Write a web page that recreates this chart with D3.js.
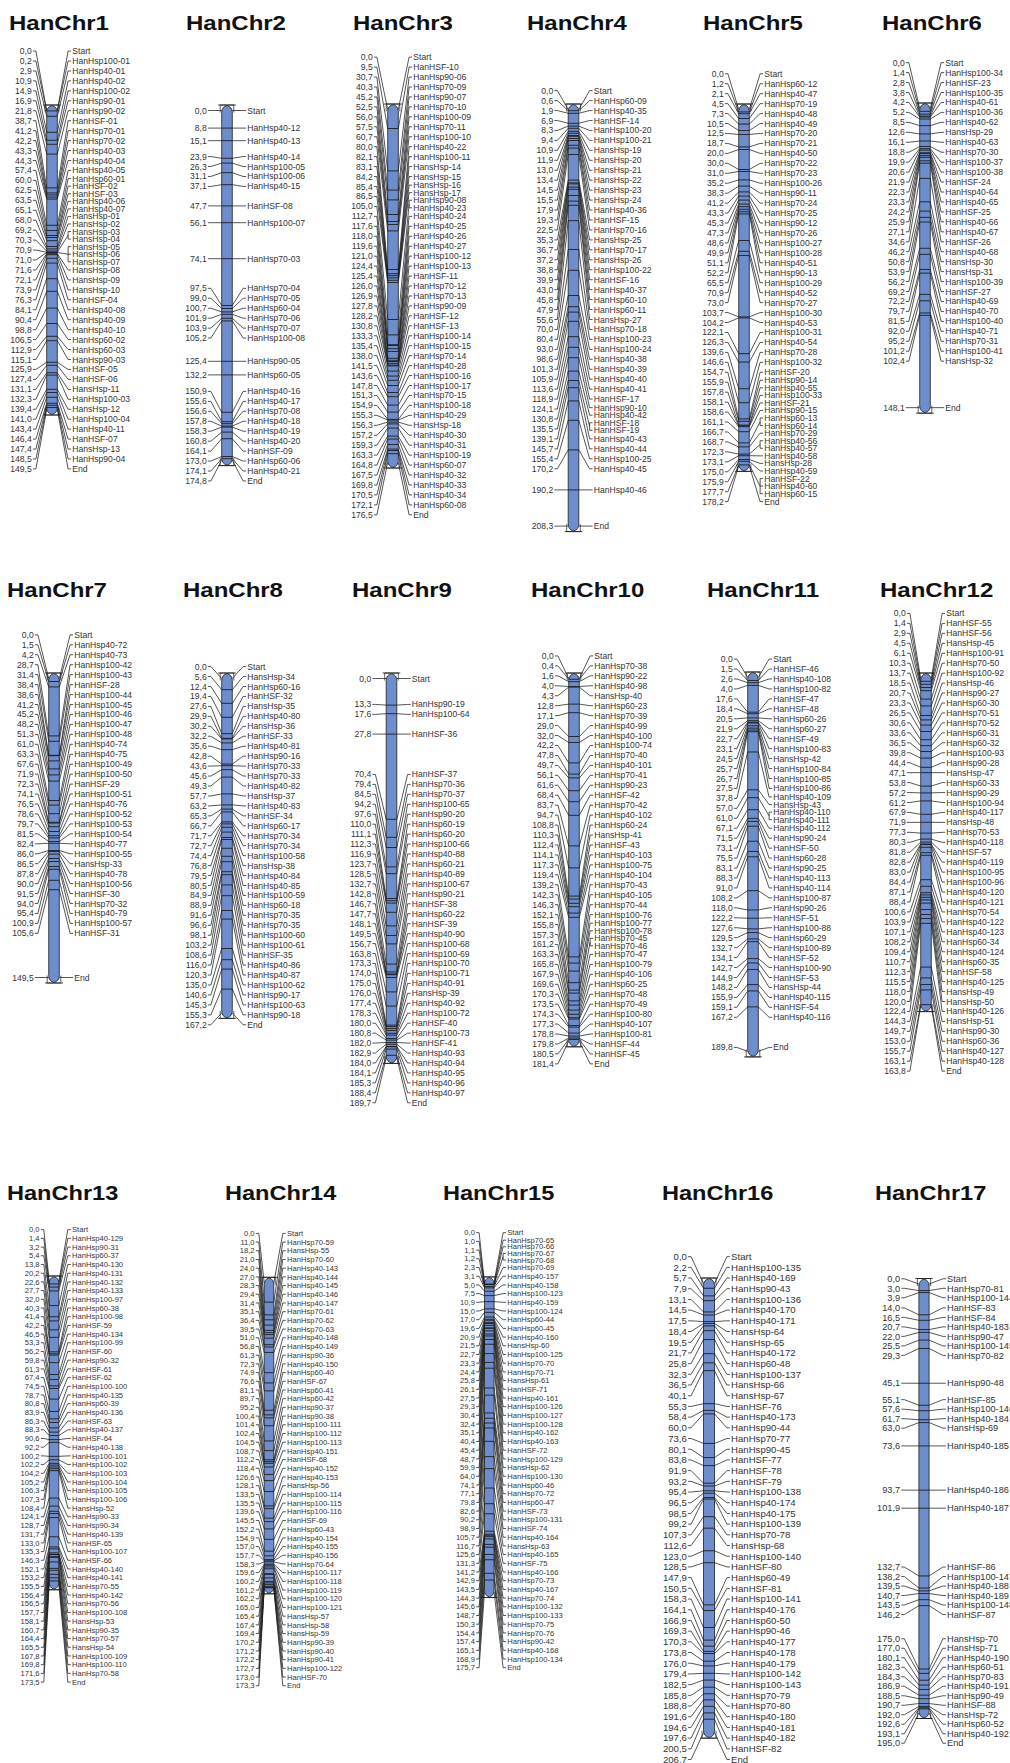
<!DOCTYPE html>
<html>
<head>
<meta charset="utf-8">
<script src="https://cdn.jsdelivr.net/npm/d3@7"></script>
<style>
  html, body { margin: 0; padding: 0; background: #fff; }
  svg { display: block; }
</style>
</head>
<body>
<svg id="chart" width="1010" height="1763"></svg>
<script>
// Linkage-map positions (cM) and marker names for each sunflower chromosome.
// Markers sharing one position are listed next to each other.
const chr1Pos = [0.0, 0.2, 2.9, 10.9, 14.9, 16.9, 21.8, 38.7, 41.2, 42.2, 43.3, 44.3, 57.4, 60.0, 62.5, 63.5, 65.1, 68.0, 69.2, 70.3, 70.9, 70.9, 71.0, 71.0, 71.0, 71.6, 72.1, 73.9, 76.3, 84.1, 90.4, 98.8, 106.5, 112.9, 115.1, 125.9, 127.4, 131.1, 132.3, 139.4, 141.0, 143.4, 146.4, 147.4, 148.5, 149.5];
const chr1Names = ["Start", "HanHsp100-01", "HanHsp40-01", "HanHsp40-02", "HanHsp100-02", "HanHsp90-01", "HanHsp90-02", "HanHSF-01", "HanHsp70-01", "HanHsp70-02", "HanHsp40-03", "HanHsp40-04", "HanHsp40-05", "HanHsp60-01", "HanHSF-02", "HanHSF-03", "HanHsp40-06", "HanHsp40-07", "HansHsp-01", "HansHsp-02", "HansHsp-03", "HansHsp-04", "HansHsp-05", "HansHsp-06", "HansHsp-07", "HansHsp-08", "HansHsp-09", "HansHsp-10", "HanHSF-04", "HanHsp40-08", "HanHsp40-09", "HanHsp40-10", "HanHsp60-02", "HanHsp60-03", "HanHsp90-03", "HanHSF-05", "HanHSF-06", "HansHsp-11", "HanHsp100-03", "HansHsp-12", "HanHsp100-04", "HanHsp40-11", "HanHSF-07", "HansHsp-13", "HanHsp90-04", "End"];

const chr2Pos = [0.0, 8.8, 15.1, 23.9, 26.3, 31.1, 37.1, 47.7, 56.1, 74.1, 97.5, 99.0, 100.7, 101.9, 103.9, 105.2, 125.4, 132.2, 150.9, 155.6, 156.6, 157.8, 158.3, 160.8, 164.1, 173.0, 174.1, 174.8];
const chr2Names = ["Start", "HanHsp40-12", "HanHsp40-13", "HanHsp40-14", "HanHsp100-05", "HanHsp100-06", "HanHsp40-15", "HanHSF-08", "HanHsp100-07", "HanHsp70-03", "HanHsp70-04", "HanHsp70-05", "HanHsp60-04", "HanHsp70-06", "HanHsp70-07", "HanHsp100-08", "HanHsp90-05", "HanHsp60-05", "HanHsp40-16", "HanHsp40-17", "HanHsp70-08", "HanHsp40-18", "HanHsp40-19", "HanHsp40-20", "HanHSF-09", "HanHsp60-06", "HanHsp40-21", "End"];

const chr3Pos = [0.0, 9.5, 30.7, 40.3, 45.2, 52.5, 56.0, 57.5, 60.7, 80.0, 82.1, 83.1, 84.2, 85.4, 86.5, 105.0, 105.0, 112.7, 117.6, 118.0, 119.6, 121.0, 124.4, 125.4, 126.0, 126.9, 127.8, 128.2, 130.8, 133.3, 135.4, 138.0, 141.5, 143.6, 147.8, 151.3, 154.9, 155.3, 156.3, 157.2, 159.3, 163.3, 164.8, 167.5, 169.8, 170.5, 172.1, 176.5];
const chr3Names = ["Start", "HanHSF-10", "HanHsp90-06", "HanHsp70-09", "HanHsp90-07", "HanHsp70-10", "HanHsp100-09", "HanHsp70-11", "HanHsp100-10", "HanHsp40-22", "HanHsp100-11", "HansHsp-14", "HansHsp-15", "HansHsp-16", "HansHsp-17", "HanHsp90-08", "HanHsp40-23", "HanHsp40-24", "HanHsp40-25", "HanHsp40-26", "HanHsp40-27", "HanHsp100-12", "HanHsp100-13", "HanHSF-11", "HanHsp70-12", "HanHsp70-13", "HanHsp90-09", "HanHSF-12", "HanHSF-13", "HanHsp100-14", "HanHsp100-15", "HanHsp70-14", "HanHsp40-28", "HanHsp100-16", "HanHsp100-17", "HanHsp70-15", "HanHsp100-18", "HanHsp40-29", "HansHsp-18", "HanHsp40-30", "HanHsp40-31", "HanHsp100-19", "HanHsp60-07", "HanHsp40-32", "HanHsp40-33", "HanHsp40-34", "HanHsp60-08", "End"];

const chr4Pos = [0.0, 0.6, 1.9, 6.9, 8.3, 9.4, 10.9, 11.9, 13.0, 13.4, 14.5, 15.5, 17.9, 19.3, 22.5, 35.3, 36.7, 37.2, 38.8, 39.9, 43.0, 45.8, 47.9, 55.6, 70.0, 80.4, 93.0, 98.6, 101.3, 105.9, 113.6, 118.9, 124.1, 130.8, 135.5, 135.5, 139.1, 145.7, 155.4, 170.2, 190.2, 208.3];
const chr4Names = ["Start", "HanHsp60-09", "HanHsp40-35", "HanHSF-14", "HanHsp100-20", "HanHsp100-21", "HansHsp-19", "HansHsp-20", "HansHsp-21", "HansHsp-22", "HansHsp-23", "HansHsp-24", "HanHsp40-36", "HanHSF-15", "HanHsp70-16", "HansHsp-25", "HanHsp70-17", "HansHsp-26", "HanHsp100-22", "HanHSF-16", "HanHsp40-37", "HanHsp60-10", "HanHsp60-11", "HansHsp-27", "HanHsp70-18", "HanHsp100-23", "HanHsp100-24", "HanHsp40-38", "HanHsp40-39", "HanHsp40-40", "HanHsp40-41", "HanHSF-17", "HanHsp90-10", "HanHsp40-42", "HanHSF-18", "HanHSF-19", "HanHsp40-43", "HanHsp40-44", "HanHsp100-25", "HanHsp40-45", "HanHsp40-46", "End"];

const chr5Pos = [0.0, 1.2, 2.1, 4.5, 7.3, 10.5, 12.5, 18.7, 20.0, 30.0, 31.0, 35.2, 38.3, 41.2, 43.3, 45.3, 47.3, 48.6, 49.9, 51.1, 52.2, 65.5, 70.9, 73.0, 103.7, 104.2, 122.1, 126.3, 139.6, 146.6, 154.7, 155.9, 157.8, 158.1, 158.6, 161.1, 166.7, 166.7, 168.7, 172.3, 172.3, 173.1, 175.0, 175.9, 177.7, 177.7, 177.7, 178.2];
const chr5Names = ["Start", "HanHsp60-12", "HanHsp40-47", "HanHsp70-19", "HanHsp40-48", "HanHsp40-49", "HanHsp70-20", "HanHsp70-21", "HanHsp40-50", "HanHsp70-22", "HanHsp70-23", "HanHsp100-26", "HanHsp90-11", "HanHsp70-24", "HanHsp70-25", "HanHsp90-12", "HanHsp70-26", "HanHsp100-27", "HanHsp100-28", "HanHsp40-51", "HanHsp90-13", "HanHsp100-29", "HanHsp40-52", "HanHsp70-27", "HanHsp100-30", "HanHsp40-53", "HanHsp100-31", "HanHsp40-54", "HanHsp70-28", "HanHsp100-32", "HanHSF-20", "HanHsp90-14", "HanHsp40-55", "HanHsp100-33", "HanHSF-21", "HanHsp90-15", "HanHsp60-13", "HanHsp60-14", "HanHsp70-29", "HanHsp40-56", "HanHsp40-57", "HanHsp40-58", "HansHsp-28", "HanHsp40-59", "HanHSF-22", "HanHsp40-60", "HanHsp60-15", "End"];

const chr6Pos = [0.0, 1.4, 2.8, 3.8, 4.2, 5.2, 8.5, 12.6, 16.1, 18.8, 19.9, 20.6, 21.9, 22.3, 23.3, 24.2, 25.9, 27.1, 34.6, 46.2, 50.8, 53.9, 56.2, 69.2, 72.2, 79.7, 81.5, 92.0, 95.2, 101.2, 102.4, 148.1];
const chr6Names = ["Start", "HanHsp100-34", "HanHSF-23", "HanHsp100-35", "HanHsp40-61", "HanHsp100-36", "HanHsp40-62", "HansHsp-29", "HanHsp40-63", "HanHsp70-30", "HanHsp100-37", "HanHsp100-38", "HanHSF-24", "HanHsp40-64", "HanHsp40-65", "HanHSF-25", "HanHsp40-66", "HanHsp40-67", "HanHSF-26", "HanHsp40-68", "HansHsp-30", "HansHsp-31", "HanHsp100-39", "HanHSF-27", "HanHsp40-69", "HanHsp40-70", "HanHsp100-40", "HanHsp40-71", "HanHsp70-31", "HanHsp100-41", "HansHsp-32", "End"];

const chr7Pos = [0.0, 1.5, 4.2, 28.7, 31.4, 38.4, 38.6, 41.2, 45.2, 48.2, 51.3, 61.0, 63.3, 67.6, 71.9, 72.3, 74.1, 76.5, 78.6, 79.7, 81.5, 82.4, 86.0, 86.5, 87.8, 90.0, 91.5, 94.0, 95.4, 100.9, 105.6, 149.5];
const chr7Names = ["Start", "HanHsp40-72", "HanHsp40-73", "HanHsp100-42", "HanHsp100-43", "HanHSF-28", "HanHsp100-44", "HanHsp100-45", "HanHsp100-46", "HanHsp100-47", "HanHsp100-48", "HanHsp40-74", "HanHsp40-75", "HanHsp100-49", "HanHsp100-50", "HanHSF-29", "HanHsp100-51", "HanHsp40-76", "HanHsp100-52", "HanHsp100-53", "HanHsp100-54", "HanHsp40-77", "HanHsp100-55", "HansHsp-33", "HanHsp40-78", "HanHsp100-56", "HanHSF-30", "HanHsp70-32", "HanHsp40-79", "HanHsp100-57", "HanHSF-31", "End"];

const chr8Pos = [0.0, 5.6, 12.4, 19.4, 27.6, 29.9, 30.2, 32.2, 35.6, 42.8, 43.6, 45.6, 49.3, 57.7, 63.2, 65.3, 66.7, 71.7, 72.7, 74.4, 76.8, 79.5, 80.5, 84.9, 88.9, 91.6, 96.6, 98.1, 103.2, 108.6, 116.0, 120.3, 135.0, 140.6, 145.3, 155.3, 167.2];
const chr8Names = ["Start", "HansHsp-34", "HanHsp60-16", "HanHSF-32", "HansHsp-35", "HanHsp40-80", "HansHsp-36", "HanHSF-33", "HanHsp40-81", "HanHsp90-16", "HanHsp70-33", "HanHsp70-33", "HanHsp40-82", "HansHsp-37", "HanHsp40-83", "HanHSF-34", "HanHsp60-17", "HanHsp70-34", "HanHsp70-34", "HanHsp100-58", "HansHsp-38", "HanHsp40-84", "HanHsp40-85", "HanHsp100-59", "HanHsp60-18", "HanHsp70-35", "HanHsp70-35", "HanHsp100-60", "HanHsp100-61", "HanHSF-35", "HanHsp40-86", "HanHsp40-87", "HanHsp100-62", "HanHsp90-17", "HanHsp100-63", "HanHsp90-18", "End"];

const chr9Pos = [0.0, 13.3, 17.6, 27.8, 70.4, 79.4, 84.5, 94.2, 97.6, 110.0, 111.1, 112.3, 116.9, 123.7, 128.5, 132.7, 142.8, 146.7, 147.7, 148.1, 149.5, 156.7, 163.8, 173.3, 174.0, 175.0, 176.0, 177.4, 178.3, 180.0, 180.8, 182.0, 182.9, 184.0, 184.1, 185.3, 188.4, 189.7];
const chr9Names = ["Start", "HanHsp90-19", "HanHsp100-64", "HanHSF-36", "HanHSF-37", "HanHsp70-36", "HanHsp70-37", "HanHsp100-65", "HanHsp90-20", "HanHsp60-19", "HanHsp60-20", "HanHsp100-66", "HanHsp40-88", "HanHsp60-21", "HanHsp40-89", "HanHsp100-67", "HanHsp90-21", "HanHSF-38", "HanHsp60-22", "HanHSF-39", "HanHsp40-90", "HanHsp100-68", "HanHsp100-69", "HanHsp100-70", "HanHsp100-71", "HanHsp40-91", "HansHsp-39", "HanHsp40-92", "HanHsp100-72", "HanHSF-40", "HanHsp100-73", "HanHSF-41", "HanHsp40-93", "HanHsp40-94", "HanHsp40-95", "HanHsp40-96", "HanHsp40-97", "End"];

const chr10Pos = [0.0, 0.4, 1.6, 4.0, 4.3, 12.8, 17.1, 29.0, 32.0, 42.2, 47.8, 49.7, 56.1, 61.6, 68.4, 83.7, 94.7, 108.8, 110.3, 112.4, 114.1, 117.3, 119.4, 139.2, 142.3, 146.3, 152.1, 155.8, 157.3, 161.2, 161.2, 163.3, 165.8, 167.9, 169.6, 170.3, 173.5, 174.3, 177.3, 178.8, 179.8, 180.5, 181.4];
const chr10Names = ["Start", "HanHsp70-38", "HanHsp90-22", "HanHsp40-98", "HansHsp-40", "HanHsp60-23", "HanHsp70-39", "HanHsp40-99", "HanHsp40-100", "HanHsp100-74", "HanHsp70-40", "HanHsp40-101", "HanHsp70-41", "HanHsp90-23", "HanHSF-42", "HanHsp70-42", "HanHsp40-102", "HanHsp60-24", "HansHsp-41", "HanHSF-43", "HanHsp40-103", "HanHsp100-75", "HanHsp40-104", "HanHsp70-43", "HanHsp40-105", "HanHsp70-44", "HanHsp100-76", "HanHsp100-77", "HanHsp100-78", "HanHsp70-45", "HanHsp70-46", "HanHsp70-47", "HanHsp100-79", "HanHsp40-106", "HanHsp60-25", "HanHsp70-48", "HanHsp70-49", "HanHsp100-80", "HanHsp40-107", "HanHsp100-81", "HanHSF-44", "HanHSF-45", "End"];

const chr11Pos = [0.0, 1.5, 2.6, 4.0, 17.6, 18.4, 20.5, 21.9, 22.7, 23.1, 24.5, 25.7, 26.7, 27.5, 37.8, 57.0, 61.0, 61.0, 67.1, 71.5, 73.1, 75.5, 83.1, 88.3, 91.0, 108.2, 118.0, 122.2, 127.6, 129.5, 132.7, 134.1, 142.7, 144.9, 148.2, 155.9, 159.1, 167.2, 189.8];
const chr11Names = ["Start", "HanHSF-46", "HanHsp40-108", "HanHsp100-82", "HanHSF-47", "HanHSF-48", "HanHsp60-26", "HanHsp60-27", "HanHSF-49", "HanHsp100-83", "HansHsp-42", "HanHsp100-84", "HanHsp100-85", "HanHsp100-86", "HanHsp40-109", "HansHsp-43", "HanHsp40-110", "HanHsp40-111", "HanHsp40-112", "HanHsp90-24", "HanHSF-50", "HanHsp60-28", "HanHsp90-25", "HanHsp40-113", "HanHsp40-114", "HanHsp100-87", "HanHsp90-26", "HanHSF-51", "HanHsp100-88", "HanHsp60-29", "HanHsp100-89", "HanHSF-52", "HanHsp100-90", "HanHSF-53", "HansHsp-44", "HanHsp40-115", "HanHSF-54", "HanHsp40-116", "End"];

const chr12Pos = [0.0, 1.4, 2.9, 4.5, 6.1, 10.3, 13.7, 18.5, 20.7, 23.3, 26.5, 30.6, 33.6, 36.5, 39.8, 44.4, 47.1, 53.8, 57.2, 61.2, 67.9, 71.9, 77.3, 80.3, 81.8, 82.8, 83.0, 84.4, 87.1, 88.4, 100.6, 103.9, 107.1, 108.2, 109.4, 110.7, 112.3, 115.5, 118.0, 120.0, 122.4, 144.3, 149.7, 153.0, 155.7, 163.1, 163.8];
const chr12Names = ["Start", "HanHSF-55", "HanHSF-56", "HansHsp-45", "HanHsp100-91", "HanHsp70-50", "HanHsp100-92", "HansHsp-46", "HanHsp90-27", "HanHsp60-30", "HanHsp70-51", "HanHsp70-52", "HanHsp60-31", "HanHsp60-32", "HanHsp100-93", "HanHsp90-28", "HansHsp-47", "HanHsp60-33", "HanHsp90-29", "HanHsp100-94", "HanHsp40-117", "HansHsp-48", "HanHsp70-53", "HanHsp40-118", "HanHSF-57", "HanHsp40-119", "HanHsp100-95", "HanHsp100-96", "HanHsp40-120", "HanHsp40-121", "HanHsp70-54", "HanHsp40-122", "HanHsp40-123", "HanHsp60-34", "HanHsp40-124", "HanHsp60-35", "HanHSF-58", "HanHsp40-125", "HansHsp-49", "HansHsp-50", "HanHsp40-126", "HansHsp-51", "HanHsp90-30", "HanHsp60-36", "HanHsp40-127", "HanHsp40-128", "End"];

const chr13Pos = [0.0, 1.4, 3.2, 5.4, 13.8, 20.2, 22.6, 27.7, 32.0, 40.3, 41.4, 42.2, 46.5, 53.3, 56.2, 59.8, 61.3, 67.4, 74.5, 78.7, 80.8, 83.9, 86.3, 88.3, 90.6, 92.2, 100.2, 102.2, 104.2, 105.2, 106.3, 107.3, 108.4, 124.1, 128.7, 131.7, 133.0, 135.3, 146.3, 152.1, 153.2, 155.5, 156.4, 156.5, 157.7, 158.1, 160.7, 164.4, 165.5, 167.8, 169.8, 171.6, 173.5];
const chr13Names = ["Start", "HanHsp40-129", "HanHsp90-31", "HanHsp60-37", "HanHsp40-130", "HanHsp40-131", "HanHsp40-132", "HanHsp40-133", "HanHsp100-97", "HanHsp60-38", "HanHsp100-98", "HanHSF-59", "HanHsp40-134", "HanHsp100-99", "HanHSF-60", "HanHsp90-32", "HanHSF-61", "HanHSF-62", "HanHsp100-100", "HanHsp40-135", "HanHsp60-39", "HanHsp40-136", "HanHSF-63", "HanHsp40-137", "HanHSF-64", "HanHsp40-138", "HanHsp100-101", "HanHsp100-102", "HanHsp100-103", "HanHsp100-104", "HanHsp100-105", "HanHsp100-106", "HansHsp-52", "HanHsp90-33", "HanHsp90-34", "HanHsp40-139", "HanHSF-65", "HanHsp100-107", "HanHSF-66", "HanHsp40-140", "HanHsp40-141", "HanHsp70-55", "HanHsp40-142", "HanHsp70-56", "HanHsp100-108", "HansHsp-53", "HanHsp90-35", "HanHsp70-57", "HansHsp-54", "HanHsp100-109", "HanHsp100-110", "HanHsp70-58", "End"];

const chr14Pos = [0.0, 11.0, 18.2, 21.0, 24.0, 27.0, 28.3, 29.4, 31.4, 35.1, 36.4, 39.5, 51.0, 56.8, 61.3, 72.3, 74.9, 76.6, 81.1, 89.7, 95.2, 100.4, 101.4, 102.4, 104.5, 108.7, 112.2, 118.4, 126.6, 128.1, 133.5, 135.5, 139.6, 145.5, 152.2, 154.9, 157.0, 157.7, 158.3, 159.6, 160.2, 161.2, 162.2, 165.0, 165.4, 167.4, 169.4, 170.2, 171.2, 172.2, 172.7, 173.0, 173.3];
const chr14Names = ["Start", "HanHsp70-59", "HansHsp-55", "HanHsp70-60", "HanHsp40-143", "HanHsp40-144", "HanHsp40-145", "HanHsp40-146", "HanHsp40-147", "HanHsp70-61", "HanHsp70-62", "HanHsp70-63", "HanHsp40-148", "HanHsp40-149", "HanHsp90-36", "HanHsp40-150", "HanHsp60-40", "HanHSF-67", "HanHsp60-41", "HanHsp60-42", "HanHsp90-37", "HanHsp90-38", "HanHsp100-111", "HanHsp100-112", "HanHsp100-113", "HanHsp40-151", "HanHSF-68", "HanHsp40-152", "HanHsp40-153", "HansHsp-56", "HanHsp100-114", "HanHsp100-115", "HanHsp100-116", "HanHSF-69", "HanHsp60-43", "HanHsp40-154", "HanHsp40-155", "HanHsp40-156", "HanHsp70-64", "HanHsp100-117", "HanHsp100-118", "HanHsp100-119", "HanHsp100-120", "HanHsp100-121", "HansHsp-57", "HansHsp-58", "HansHsp-59", "HanHsp90-39", "HanHsp90-40", "HanHsp90-41", "HanHsp100-122", "HanHSF-70", "End"];

const chr15Pos = [0.0, 1.0, 1.1, 1.2, 1.2, 2.3, 3.1, 5.0, 7.5, 10.9, 15.0, 17.0, 19.6, 20.9, 21.5, 22.7, 23.3, 24.4, 25.8, 26.1, 27.5, 29.3, 30.4, 32.4, 35.1, 40.4, 45.4, 48.7, 59.9, 64.0, 74.1, 77.1, 79.8, 82.6, 90.2, 98.9, 105.7, 116.7, 125.6, 131.3, 141.2, 142.9, 143.5, 144.3, 145.6, 148.7, 150.3, 154.4, 157.4, 165.1, 168.9, 175.7];
const chr15Names = ["Start", "HanHsp70-65", "HanHsp70-66", "HanHsp70-67", "HanHsp70-68", "HanHsp70-69", "HanHsp40-157", "HanHsp40-158", "HanHsp100-123", "HanHsp40-159", "HanHsp100-124", "HanHsp60-44", "HanHsp60-45", "HanHsp40-160", "HansHsp-60", "HanHsp100-125", "HanHsp70-70", "HanHsp70-71", "HansHsp-61", "HanHSF-71", "HanHsp40-161", "HanHsp100-126", "HanHsp100-127", "HanHsp100-128", "HanHsp40-162", "HanHsp40-163", "HanHSF-72", "HanHsp100-129", "HansHsp-62", "HanHsp100-130", "HanHsp60-46", "HanHsp70-72", "HanHsp60-47", "HanHSF-73", "HanHsp100-131", "HanHSF-74", "HanHsp40-164", "HansHsp-63", "HanHsp40-165", "HanHSF-75", "HanHsp40-166", "HanHsp70-73", "HanHsp40-167", "HanHsp70-74", "HanHsp100-132", "HanHsp100-133", "HanHsp70-75", "HanHsp70-76", "HanHsp90-42", "HanHsp40-168", "HanHsp100-134", "End"];

const chr16Pos = [0.0, 2.2, 5.7, 7.9, 13.1, 14.5, 17.5, 18.4, 19.5, 21.7, 25.8, 32.3, 36.5, 40.1, 55.3, 58.4, 60.0, 73.6, 80.1, 83.8, 91.9, 93.2, 95.4, 96.5, 98.5, 99.2, 107.3, 112.6, 123.0, 128.5, 147.9, 150.5, 158.3, 164.1, 166.9, 169.3, 170.3, 173.8, 176.0, 179.4, 182.5, 185.8, 188.8, 191.6, 194.6, 197.6, 200.5, 206.7];
const chr16Names = ["Start", "HanHsp100-135", "HanHsp40-169", "HanHsp90-43", "HanHsp100-136", "HanHsp40-170", "HanHsp40-171", "HansHsp-64", "HansHsp-65", "HanHsp40-172", "HanHsp60-48", "HanHsp100-137", "HansHsp-66", "HansHsp-67", "HanHSF-76", "HanHsp40-173", "HanHsp90-44", "HanHsp70-77", "HanHsp90-45", "HanHSF-77", "HanHSF-78", "HanHSF-79", "HanHsp100-138", "HanHsp40-174", "HanHsp40-175", "HanHsp100-139", "HanHsp70-78", "HansHsp-68", "HanHsp100-140", "HanHSF-80", "HanHsp60-49", "HanHSF-81", "HanHsp100-141", "HanHsp40-176", "HanHsp60-50", "HanHsp90-46", "HanHsp40-177", "HanHsp40-178", "HanHsp40-179", "HanHsp100-142", "HanHsp100-143", "HanHsp70-79", "HanHsp70-80", "HanHsp40-180", "HanHsp40-181", "HanHsp40-182", "HanHSF-82", "End"];

const chr17Pos = [0.0, 3.0, 3.9, 14.0, 16.5, 20.7, 22.0, 25.5, 29.3, 45.1, 55.1, 57.6, 61.7, 63.0, 73.6, 93.7, 101.9, 132.7, 138.2, 139.5, 140.7, 143.5, 146.2, 175.0, 177.0, 180.1, 182.3, 184.3, 186.9, 188.5, 190.7, 192.0, 192.6, 193.1, 195.0];
const chr17Names = ["Start", "HanHsp70-81", "HanHsp100-144", "HanHSF-83", "HanHSF-84", "HanHsp40-183", "HanHsp90-47", "HanHsp100-145", "HanHsp70-82", "HanHsp90-48", "HanHSF-85", "HanHsp100-146", "HanHsp40-184", "HansHsp-69", "HanHsp40-185", "HanHsp40-186", "HanHsp40-187", "HanHSF-86", "HanHsp100-147", "HanHsp40-188", "HanHsp40-189", "HanHsp100-148", "HanHSF-87", "HansHsp-70", "HansHsp-71", "HanHsp40-190", "HanHsp60-51", "HanHsp70-83", "HanHsp40-191", "HanHsp90-49", "HanHSF-88", "HansHsp-72", "HanHsp60-52", "HanHsp40-192", "End"];

const chromosomeTitles = ["HanChr1", "HanChr2", "HanChr3", "HanChr4", "HanChr5", "HanChr6", "HanChr7", "HanChr8", "HanChr9", "HanChr10", "HanChr11", "HanChr12", "HanChr13", "HanChr14", "HanChr15", "HanChr16", "HanChr17"];
const chromosomePositions = [chr1Pos, chr2Pos, chr3Pos, chr4Pos, chr5Pos, chr6Pos, chr7Pos, chr8Pos, chr9Pos, chr10Pos, chr11Pos, chr12Pos, chr13Pos, chr14Pos, chr15Pos, chr16Pos, chr17Pos];
const chromosomeNames = [chr1Names, chr2Names, chr3Names, chr4Names, chr5Names, chr6Names, chr7Names, chr8Names, chr9Names, chr10Names, chr11Names, chr12Names, chr13Names, chr14Names, chr15Names, chr16Names, chr17Names];

// ---- drawing styles: text size, label pitch, bar width, connector lengths ----
const styles = {
  std:   { font: 8.6, gap: 9.95, barW: 10.6, connL: 13.8, connR: 13.8, titleSize: 20,   titleStretch: 1.2 },
  small: { font: 7.6, gap: 8.7,  barW: 9.6,  connL: 8.4,  connR: 12.0, titleSize: 20.5, titleStretch: 1.15 },
  c16:   { font: 9.6, gap: 10.7, barW: 11.0, connL: 15.4, connR: 15.4, titleSize: 20.5, titleStretch: 1.15 },
  c17:   { font: 9.2, gap: 9.5,  barW: 10.2, connL: 17.6, connR: 16.8, titleSize: 20.5, titleStretch: 1.15 }
};

// Placement of each linkage group: bar centre, title anchor, y of 0 cM, px per cM,
// and a vertical offset of the label columns.
const placement = [
  { cx: 52,    tx: 9,   ty: 29.5,  y0: 110.5, k: 2.0,  shift: 0,  style: "std" },
  { cx: 227,   tx: 186, ty: 29.5,  y0: 110.5, k: 2.0,  shift: 0,  style: "std" },
  { cx: 393,   tx: 353, ty: 29.5,  y0: 109.5, k: 2.0,  shift: 0,  style: "std" },
  { cx: 573.5, tx: 527, ty: 29.5,  y0: 109.5, k: 2.0,  shift: 0,  style: "std" },
  { cx: 744,   tx: 703, ty: 29.5,  y0: 109.5, k: 2.0,  shift: 0,  style: "std" },
  { cx: 925,   tx: 882, ty: 29.5,  y0: 108.5, k: 2.02, shift: 0,  style: "std" },
  { cx: 54,    tx: 7,   ty: 596.5, y0: 678.5, k: 2.0,  shift: 0,  style: "std" },
  { cx: 227,   tx: 183, ty: 596.5, y0: 678.5, k: 2.0,  shift: 0,  style: "std" },
  { cx: 391.5, tx: 352, ty: 596.5, y0: 678.5, k: 2.0,  shift: 0,  style: "std" },
  { cx: 574,   tx: 531, ty: 596.5, y0: 678.5, k: 2.0,  shift: 0,  style: "std" },
  { cx: 753,   tx: 707, ty: 596.5, y0: 677.5, k: 1.97, shift: -4, style: "std" },
  { cx: 926,   tx: 880, ty: 596.5, y0: 678.5, k: 2.0,  shift: 0,  style: "std" },
  { cx: 54,    tx: 7,   ty: 1200,  y0: 1281.5, k: 1.745, shift: 23, style: "small" },
  { cx: 269,   tx: 225, ty: 1200,  y0: 1282.8, k: 1.763, shift: 24, style: "small" },
  { cx: 489.3, tx: 443, ty: 1200,  y0: 1282.4, k: 1.762, shift: 13, style: "small" },
  { cx: 709,   tx: 662, ty: 1200,  y0: 1283.5, k: 2.173, shift: 0,  style: "c16" },
  { cx: 924,   tx: 875, ty: 1200,  y0: 1284,   k: 2.2,   shift: 0,  style: "c17" }
];

const BAR_FILL = "#6d8dcd";
const INK = "#1e1e1e";
const TEXT = "#333";
const FONT = "'Liberation Sans', Arial, Helvetica, sans-serif";

const fmtCM = v => d3.format(".1f")(v).replace(".", ",");

// Keep labels in order and at least gaps[i] apart. Overlapping labels are merged
// into blocks; each block is centred on the midpoint of its first and last target.
function packLabels(targets, gaps) {
  const n = targets.length;
  const off = [0];
  for (let i = 1; i < n; i++) off[i] = off[i - 1] + gaps[i - 1];
  const blocks = targets.map((t, i) => ({ s: i, e: i }));
  const top = b => (targets[b.s] + targets[b.e]) / 2 - (off[b.e] - off[b.s]) / 2;
  let changed = true;
  while (changed) {
    changed = false;
    for (let i = 0; i < blocks.length - 1; i++) {
      const a = blocks[i], b = blocks[i + 1];
      const aEnd = top(a) + off[a.e] - off[a.s];
      if (aEnd + gaps[a.e] > top(b) + 1e-6) {
        a.e = b.e;
        blocks.splice(i + 1, 1);
        changed = true;
        break;
      }
    }
  }
  const out = new Array(n);
  blocks.forEach(b => {
    const t0 = top(b);
    for (let i = b.s; i <= b.e; i++) out[i] = t0 + off[i] - off[b.s];
  });
  return out;
}

const svg = d3.select("#chart");

chromosomeTitles.forEach((title, ci) => {
  const pos = chromosomePositions[ci];
  const names = chromosomeNames[ci];
  const P = placement[ci];
  const S = styles[P.style];
  const length = d3.max(pos);
  const y = d3.scaleLinear().domain([0, length]).range([P.y0, P.y0 + length * P.k]);

  const g = svg.append("g").attr("class", "linkage-group");

  // title
  g.append("text")
    .attr("transform", `translate(${P.tx},${P.ty}) scale(${S.titleStretch},1)`)
    .attr("font-family", FONT)
    .attr("font-weight", "bold")
    .attr("font-size", S.titleSize)
    .attr("fill", "#111")
    .text(title);

  // loci: unique positions, each with one or more marker names
  const loci = [];
  pos.forEach((p, i) => {
    const last = loci[loci.length - 1];
    if (last && last.pos === p) last.names.push(names[i]);
    else loci.push({ pos: p, names: [names[i]] });
  });

  const leftY = packLabels(loci.map(d => y(d.pos)), d3.range(loci.length - 1).map(() => S.gap))
    .map(v => v + P.shift);

  const right = [];
  loci.forEach((d, li) => d.names.forEach(n => right.push({ name: n, locus: li })));
  const rgap = S.gap * 0.76;
  const rightY = packLabels(right.map(r => leftY[r.locus]), d3.range(right.length - 1).map(() => rgap));
  right.forEach((r, i) => { r.y = rightY[i]; });

  const xL = P.cx - S.barW / 2, xR = P.cx + S.barW / 2;
  const yTop = y(0), yBot = y(length);
  const stub = 3;

  // chromosome bar with pointed ends and end markers
  const tip = 5, shoulder = 2;
  const barPath = d3.path();
  barPath.moveTo(xL, yTop + shoulder);
  barPath.quadraticCurveTo(xL, yTop - tip + 1.5, P.cx, yTop - tip);
  barPath.quadraticCurveTo(xR, yTop - tip + 1.5, xR, yTop + shoulder);
  barPath.lineTo(xR, yBot - shoulder);
  barPath.quadraticCurveTo(xR, yBot + tip - 1.5, P.cx, yBot + tip);
  barPath.quadraticCurveTo(xL, yBot + tip - 1.5, xL, yBot - shoulder);
  barPath.closePath();

  [[yTop - tip - 0.5, yTop + shoulder], [yBot + tip + 0.5, yBot - shoulder]].forEach(([yc, ys]) => {
    g.append("path")
      .attr("d", `M${xL - 1.5},${ys} L${xL - 1.5},${yc} L${xR + 1.5},${yc} L${xR + 1.5},${ys}`)
      .attr("fill", "none").attr("stroke", INK).attr("stroke-width", 0.7);
    g.append("line")
      .attr("x1", xL - 3.5).attr("x2", xR + 3.5).attr("y1", yc).attr("y2", yc)
      .attr("stroke", INK).attr("stroke-width", 0.9);
  });

  g.append("path")
    .attr("d", barPath.toString())
    .attr("fill", BAR_FILL)
    .attr("stroke", INK)
    .attr("stroke-width", 0.8);

  // band lines across the bar
  g.selectAll("line.band")
    .data(loci.filter(d => d.pos > 0 && d.pos < length))
    .join("line")
    .attr("class", "band")
    .attr("x1", xL).attr("x2", xR)
    .attr("y1", d => y(d.pos)).attr("y2", d => y(d.pos))
    .attr("stroke", INK).attr("stroke-width", 0.9);

  // left side: positions in cM
  const lx = xL - S.connL;
  g.selectAll("path.lconn")
    .data(loci)
    .join("path")
    .attr("class", "lconn")
    .attr("d", (d, i) => `M${lx},${leftY[i]} L${lx + stub},${leftY[i]} L${xL},${y(d.pos)}`)
    .attr("fill", "none").attr("stroke", INK).attr("stroke-width", 0.75);

  g.selectAll("text.cm")
    .data(loci)
    .join("text")
    .attr("class", "cm")
    .attr("x", lx - 1.2)
    .attr("y", (d, i) => leftY[i])
    .attr("dy", "0.35em")
    .attr("text-anchor", "end")
    .attr("font-family", FONT)
    .attr("font-size", S.font)
    .attr("fill", TEXT)
    .text(d => fmtCM(d.pos));

  // right side: marker names (markers sharing a locus are bracketed)
  const rx = xR + S.connR;
  const bx = rx - stub;
  loci.forEach((d, li) => {
    const members = right.filter(r => r.locus === li);
    const yl = y(d.pos);
    if (members.length === 1) {
      const r = members[0];
      g.append("path")
        .attr("d", `M${xR},${yl} L${bx},${r.y} L${rx},${r.y}`)
        .attr("fill", "none").attr("stroke", INK).attr("stroke-width", 0.75);
    } else {
      const y1 = members[0].y, y2 = members[members.length - 1].y;
      g.append("path")
        .attr("d", `M${xR},${yl} L${bx},${(y1 + y2) / 2} M${bx},${y1} L${bx},${y2}`)
        .attr("fill", "none").attr("stroke", INK).attr("stroke-width", 0.75);
      members.forEach(r => {
        g.append("line")
          .attr("x1", bx).attr("x2", rx).attr("y1", r.y).attr("y2", r.y)
          .attr("stroke", INK).attr("stroke-width", 0.75);
      });
    }
  });

  g.selectAll("text.marker")
    .data(right)
    .join("text")
    .attr("class", "marker")
    .attr("x", rx + 1.2)
    .attr("y", d => d.y)
    .attr("dy", "0.35em")
    .attr("font-family", FONT)
    .attr("font-size", S.font)
    .attr("fill", TEXT)
    .text(d => d.name);
});
</script>
</body>
</html>
